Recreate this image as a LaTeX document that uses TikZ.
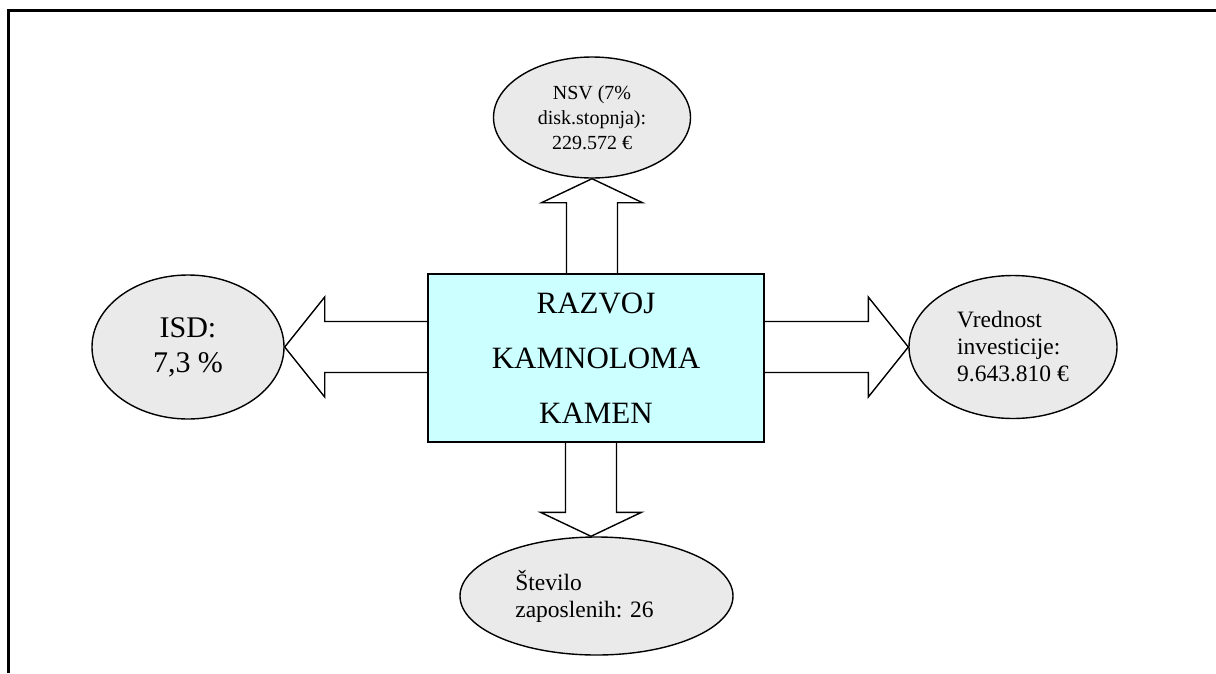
\documentclass[tikz,border=0pt]{standalone}
\usepackage{fontspec}
\setmainfont{Liberation Serif}
\usetikzlibrary{shapes.geometric,calc}
\definecolor{boxcyan}{HTML}{CCFFFF}
\definecolor{ovalgray}{HTML}{EAEAEA}
\pgfdeclarelayer{back}
\pgfsetlayers{back,main}
\tikzset{
  oval/.style={ellipse, draw=black, line width=1.4pt, fill=ovalgray, inner sep=0pt},
  mainbox/.style={draw=black, line width=1.4pt, fill=boxcyan, inner sep=0pt, align=center},
  blockarrow/.style={draw=black, line width=1.4pt, fill=white, line join=miter},
  frameline/.style={line width=3pt}
}
\begin{document}
\begin{tikzpicture}[x=1pt,y=-1pt]
\useasboundingbox (0,0) rectangle (1216,673);

% page frame (top and left rules)
\draw[frameline] (8,673) -- (8,10) -- (1216,10);

% central project box
\node[mainbox, minimum width=336pt, minimum height=168pt,
      font=\fontsize{31}{55}\selectfont] (core) at (596,358)
  {RAZVOJ\\KAMNOLOMA\\KAMEN};

% result ovals
\node[oval, minimum width=197pt, minimum height=121pt, align=center,
      font=\fontsize{20}{25}\selectfont] (nsv) at (592,117.5)
  {NSV (7\%\\disk.stopnja):\\229.572 €};
\node[oval, minimum width=192pt, minimum height=144pt, align=center,
      font=\fontsize{30}{35}\selectfont] (isd) at (188,347)
  {ISD:\\7,3 \%};
\node[oval, minimum width=208pt, minimum height=143pt, align=left,
      font=\fontsize{23.5}{27}\selectfont] (inv) at (1013,347)
  {Vrednost\\investicije:\\9.643.810 €};
\node[oval, minimum width=273pt, minimum height=118pt, align=left,
      font=\fontsize{23.5}{27}\selectfont] (emp) at (596.5,596)
  {Število\\zaposlenih: 26\hspace*{24pt}};

% block arrows from the box to each oval
\coordinate (tT) at (nsv.south);
\coordinate (bT) at (core.north -| tT);
\coordinate (tB) at ($(emp.north)+(-5.5,0)$);
\coordinate (bB) at (core.south -| tB);
\coordinate (tL) at (isd.east);
\coordinate (bL) at (core.west |- tL);
\coordinate (tR) at (inv.west);
\coordinate (bR) at (core.east |- tR);

\begin{pgfonlayer}{back}
\draw[blockarrow] ($(bT)+(-25.5,0)$) -- ($(tT)+(-25.5,24)$) -- ($(tT)+(-50.5,24)$)
  -- (tT) -- ($(tT)+(50.5,24)$) -- ($(tT)+(25.5,24)$) -- ($(bT)+(25.5,0)$);
\draw[blockarrow] ($(bB)+(-25.5,0)$) -- ($(tB)+(-25.5,-24)$) -- ($(tB)+(-50.5,-24)$)
  -- (tB) -- ($(tB)+(50.5,-24)$) -- ($(tB)+(25.5,-24)$) -- ($(bB)+(25.5,0)$);
\draw[blockarrow] ($(bL)+(0,-25.5)$) -- ($(tL)+(40,-25.5)$) -- ($(tL)+(40,-50)$)
  -- (tL) -- ($(tL)+(40,50)$) -- ($(tL)+(40,25.5)$) -- ($(bL)+(0,25.5)$);
\draw[blockarrow] ($(bR)+(0,-25.5)$) -- ($(tR)+(-40,-25.5)$) -- ($(tR)+(-40,-50)$)
  -- (tR) -- ($(tR)+(-40,50)$) -- ($(tR)+(-40,25.5)$) -- ($(bR)+(0,25.5)$);
\end{pgfonlayer}
\end{tikzpicture}
\end{document}
